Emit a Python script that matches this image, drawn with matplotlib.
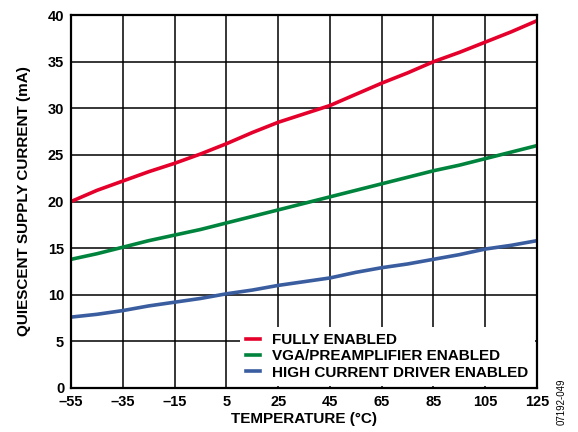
import matplotlib.pyplot as plt

plt.rcParams['font.family'] = ['Liberation Sans', 'DejaVu Sans']
plt.rcParams['font.weight'] = 'bold'

temps = [-55, -45, -35, -25, -15, -5, 5, 15, 25, 35, 45, 55, 65, 75, 85, 95, 105, 115, 125]
fully = [20.0, 21.2, 22.2, 23.2, 24.1, 25.1, 26.2, 27.4, 28.5, 29.4, 30.3, 31.5, 32.7, 33.8, 35.0, 36.0, 37.1, 38.2, 39.4]
vga = [13.8, 14.4, 15.1, 15.8, 16.4, 17.0, 17.7, 18.4, 19.1, 19.8, 20.5, 21.2, 21.9, 22.6, 23.3, 23.9, 24.6, 25.3, 26.0]
driver = [7.6, 7.9, 8.3, 8.8, 9.2, 9.6, 10.1, 10.5, 11.0, 11.4, 11.8, 12.4, 12.9, 13.3, 13.8, 14.3, 14.9, 15.3, 15.8]

xticks = list(range(-55, 126, 20))
xlabels = [str(t).replace('-', '\u2013') for t in xticks]
yticks = list(range(0, 41, 5))

fig = plt.figure(figsize=(5.78, 4.32), dpi=100)
ax = fig.add_axes([0.123, 0.102, 0.806, 0.863])

ax.plot(temps, fully, color='#E4002B', lw=2.6, label='FULLY ENABLED', zorder=3)
ax.plot(temps, vga, color='#00843D', lw=2.6, label='VGA/PREAMPLIFIER ENABLED', zorder=3)
ax.plot(temps, driver, color='#3A5DA0', lw=2.6, label='HIGH CURRENT DRIVER ENABLED', zorder=3)

ax.set_xlim(-55, 125)
ax.set_ylim(0, 40)
ax.set_xticks(xticks)
ax.set_xticklabels(xlabels)
ax.set_yticks(yticks)
ax.tick_params(length=0, labelsize=10.5, pad=5)
ax.grid(True, color='black', lw=1.1)
ax.set_axisbelow(True)
for s in ax.spines.values():
    s.set_linewidth(1.6)
    s.set_color('black')
    s.set_zorder(4)

ax.set_xlabel('TEMPERATURE (\u00b0C)', fontsize=11, fontweight='bold', labelpad=2)
ax.set_ylabel('QUIESCENT SUPPLY CURRENT (mA)', fontsize=11, fontweight='bold', labelpad=12)

leg = ax.legend(loc='lower right', fontsize=11, frameon=True, facecolor='white',
                edgecolor='none', framealpha=1, fancybox=False, handlelength=0.9,
                handletextpad=0.8, labelspacing=0.15, borderaxespad=0.15, borderpad=0.4)
leg.set_zorder(5)

fig.text(0.972, 0.07, '07192-049', rotation=90, fontsize=7, fontweight='normal',
         ha='center', va='center')

fig.savefig('out.png', dpi=100)
